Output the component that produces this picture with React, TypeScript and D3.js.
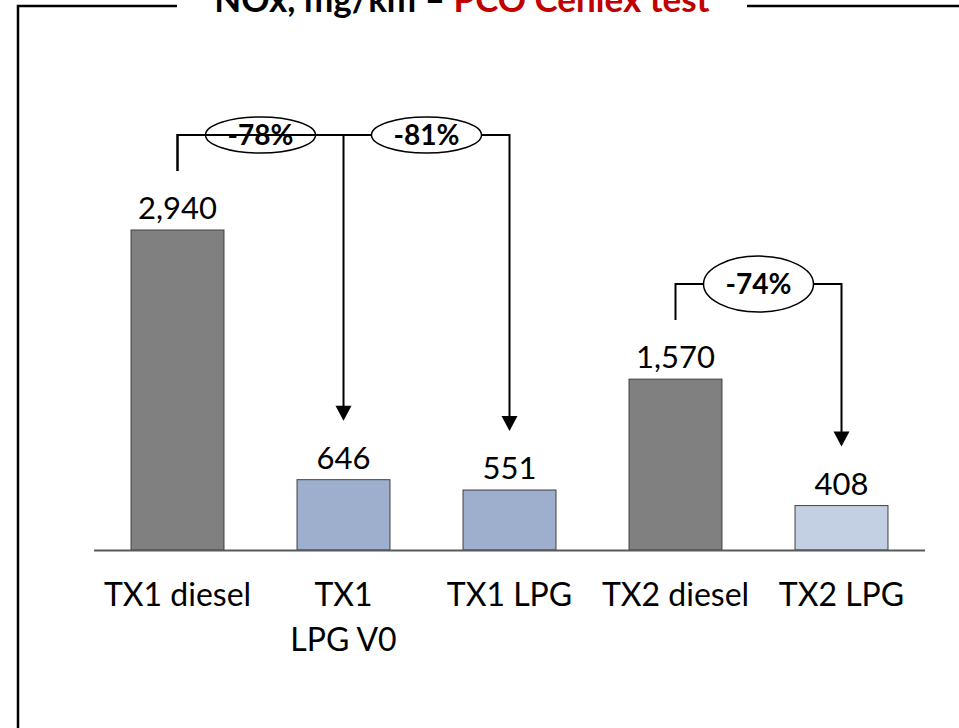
import { scaleBand, scaleLinear, format } from "d3";

const categories = ["TX1 diesel", "TX1\nLPG V0", "TX1 LPG", "TX2 diesel", "TX2 LPG"];
const values = [2940, 646, 551, 1570, 408];
const kinds = ["diesel", "lpg", "lpg", "diesel", "lpg2"];

// reductions: compared bar -> target bar
const brackets = [
  { from: 0, to: 1, label: "-78%" },
  { from: 0, to: 2, label: "-81%" },
  { from: 3, to: 4, label: "-74%" },
];

const W = 959;
const H = 728;
const FONT = "Lato, 'Open Sans', sans-serif";
const fills: Record<string, string> = {
  diesel: "#808080",
  lpg: "#9dafcd",
  lpg2: "#c3cfe2",
};
const ellipseRy = [18, 18, 28];

export default function App() {
  const x = scaleBand<string>()
    .domain(categories)
    .range([94.5, 924.5])
    .paddingInner(0.44)
    .paddingOuter(0.22);
  const y = scaleLinear().domain([0, 2940]).range([550, 230]);
  const fmt = format(",");
  const cx = (i: number) => (x(categories[i]) ?? 0) + x.bandwidth() / 2;

  return (
    <svg
      width={W}
      height={H}
      style={{ position: "absolute", left: 0, top: 0, background: "#fff" }}
      fontFamily={FONT}
    >
      {/* frame */}
      <g stroke="#000" strokeWidth={2.5} fill="none">
        <path d={`M18,${H} L18,6 L177,6`} />
        <line x1={747} x2={W} y1={6} y2={6} />
      </g>
      <text x={462} y={12} textAnchor="middle" fontSize={35} fontWeight={700}>
        <tspan fill="#000">NOx, mg/km – </tspan>
        <tspan fill="#c00000">PCO Cenlex test</tspan>
      </text>

      {/* bars */}
      {values.map((v, i) => (
        <g key={i}>
          <rect
            x={x(categories[i])}
            y={y(v)}
            width={x.bandwidth()}
            height={y(0) - y(v)}
            fill={fills[kinds[i]]}
            stroke="#404040"
            strokeWidth={1}
          />
          <text
            x={cx(i)}
            y={y(v) - 11}
            textAnchor="middle"
            fontSize={31}
            fill="#000"
          >
            {fmt(v)}
          </text>
          <text x={cx(i)} y={606} textAnchor="middle" fontSize={32} fill="#000">
            {categories[i].split("\n").map((s, k) => (
              <tspan key={k} x={cx(i)} dy={k === 0 ? 0 : 45}>
                {s}
              </tspan>
            ))}
          </text>
        </g>
      ))}

      {/* axis */}
      <line x1={94} x2={925} y1={550.5} y2={550.5} stroke="#595959" strokeWidth={2} />

      {/* brackets */}
      {brackets.map((b, k) => {
        const level = y(values[b.from]) - 95;
        const x0 = cx(b.from);
        const x1 = cx(b.to);
        const xPrev = cx(b.to - 1);
        const ex = (xPrev + x1) / 2;
        const tip = y(values[b.to]) - 59;
        return (
          <g key={k}>
            <path
              d={`M${x0},${y(values[b.from]) - 59} L${x0},${level} L${x1},${level} L${x1},${tip - 14}`}
              fill="none"
              stroke="#000"
              strokeWidth={2}
            />
            <path d={`M${x1 - 8},${tip - 15} L${x1 + 8},${tip - 15} L${x1},${tip} Z`} fill="#000" />
            <ellipse cx={ex} cy={level} rx={55} ry={ellipseRy[k]} fill="#fff" stroke="#000" strokeWidth={1.5} />
            <text
              x={ex}
              y={level + 9.5}
              textAnchor="middle"
              fontSize={28}
              fontWeight={700}
              fill="#000"
            >
              {b.label}
            </text>
          </g>
        );
      })}
    </svg>
  );
}
